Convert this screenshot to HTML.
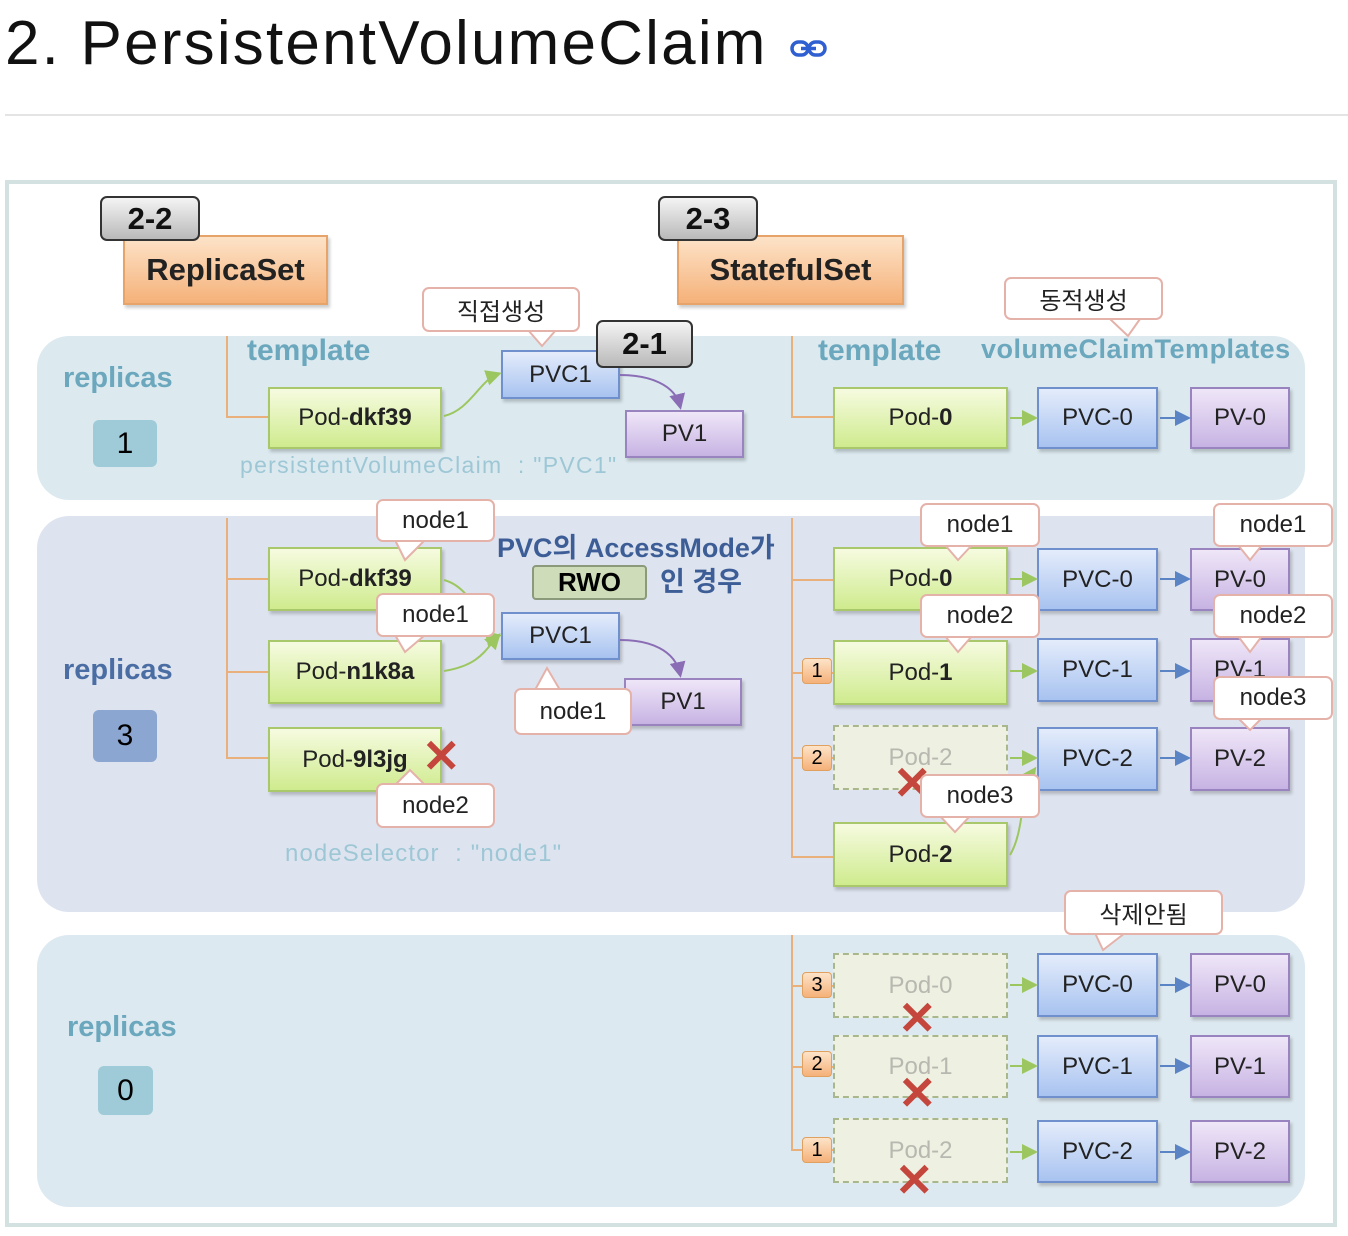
<!DOCTYPE html>
<html><head><meta charset="utf-8">
<style>
*{box-sizing:border-box;margin:0;padding:0}
body{width:1348px;height:1236px;background:#fff;position:relative;overflow:hidden;font-family:"Liberation Sans","Noto Sans CJK KR",sans-serif}
.a{position:absolute}
.t{position:absolute;white-space:nowrap}
.bx{position:absolute;display:flex;align-items:center;justify-content:center;font-size:24px;color:#222;box-shadow:2px 3px 3px rgba(0,0,0,.2)}
.pod{background:linear-gradient(#f6fbe0,#cfeb8e);border:2px solid #a9c86c}
.ghost{background:#eef0e2;border:2px dashed #a9b88c;color:#b8b8b0;box-shadow:none}
.pvc{background:linear-gradient(#e4ecfb,#a8c3f0);border:2px solid #6f90cc}
.pv{background:linear-gradient(#efe6f8,#c7b3e3);border:2px solid #9a84c0}
.org{background:linear-gradient(#fde3c8,#f5b179);border:2px solid #e6a36a;font-weight:bold;font-size:31px}
.bdg{position:absolute;display:flex;align-items:center;justify-content:center;background:linear-gradient(#f4f4f4,#b9b9b9);border:2px solid #333;border-radius:7px;font-weight:bold;font-size:31px;color:#111}
.co{position:absolute;background:#fff;border:2px solid #e5b2aa;border-radius:7px;display:flex;align-items:center;justify-content:center;font-size:24px;color:#222}
.ob{position:absolute;background:linear-gradient(#fde3c8,#f5b179);border:1px solid #e0a060;border-radius:4px;font-size:20px;display:flex;align-items:center;justify-content:center;width:30px;height:26px}
.pan{position:absolute;left:37px;width:1268px;border-radius:32px}
.ol{position:absolute;background:#e9b07c}
.x{position:absolute;color:#c4463c;font-size:46px;font-weight:bold;line-height:1}
</style></head><body>
<div class="t" style="left:5px;top:8px;font-size:62px;color:#111;letter-spacing:2.2px">2. PersistentVolumeClaim</div>
<svg class="a" style="left:790px;top:38px" width="38" height="22"><rect x="2" y="4" width="16" height="13" rx="6.5" fill="none" stroke="#2f5fd0" stroke-width="3.5"/><rect x="19" y="4" width="16" height="13" rx="6.5" fill="none" stroke="#2f5fd0" stroke-width="3.5"/><line x1="11" y1="10.5" x2="26" y2="10.5" stroke="#2f5fd0" stroke-width="3.5"/></svg>
<div class="a" style="left:5px;top:114px;width:1343px;height:2px;background:#e4e4e4"></div>
<div class="a" style="left:5px;top:180px;width:1332px;height:1047px;border:4px solid #d3e2e1;background:#fff"></div>

<div class="pan" style="top:336px;height:164px;background:#dceaf0"></div>
<div class="pan" style="top:516px;height:396px;background:#dee4ef"></div>
<div class="pan" style="top:935px;height:272px;background:#dde9f0"></div>

<div class="bx org" style="left:123px;top:235px;width:205px;height:70px">ReplicaSet</div>
<div class="bdg" style="left:100px;top:196px;width:100px;height:45px">2-2</div>
<div class="bx org" style="left:677px;top:235px;width:227px;height:70px">StatefulSet</div>
<div class="bdg" style="left:658px;top:196px;width:100px;height:45px">2-3</div>

<div class="t" style="left:63px;top:362px;font-size:29px;font-weight:bold;color:#6ba7bd">replicas</div>
<div class="a" style="left:93px;top:420px;width:64px;height:47px;background:#9fcbd8;border-radius:6px;font-size:30px;display:flex;align-items:center;justify-content:center">1</div>
<div class="t" style="left:247px;top:334px;font-size:30px;font-weight:bold;color:#6ba7bd">template</div>
<div class="ol" style="left:226px;top:336px;width:2px;height:82px"></div>
<div class="ol" style="left:226px;top:416px;width:42px;height:2px"></div>
<div class="bx pod" style="left:268px;top:387px;width:174px;height:62px">Pod-<b>dkf39</b></div>
<div class="bx pvc" style="left:501px;top:350px;width:119px;height:49px">PVC1</div>
<div class="bx pv" style="left:625px;top:410px;width:119px;height:48px">PV1</div>
<div class="t" style="left:240px;top:452px;font-size:23px;color:#9ec7d6;letter-spacing:1.3px">persistentVolumeClaim &nbsp;: "PVC1"</div>
<div class="t" style="left:818px;top:334px;font-size:30px;font-weight:bold;color:#6ba7bd">template</div>
<div class="t" style="left:981px;top:334px;font-size:27px;font-weight:bold;color:#6ba7bd;letter-spacing:0.5px">volumeClaimTemplates</div>
<div class="ol" style="left:791px;top:336px;width:2px;height:82px"></div>
<div class="ol" style="left:791px;top:416px;width:42px;height:2px"></div>
<div class="bx pod" style="left:833px;top:387px;width:175px;height:62px">Pod-<b>0</b></div>
<div class="bx pvc" style="left:1037px;top:387px;width:121px;height:62px">PVC-0</div>
<div class="bx pv" style="left:1190px;top:387px;width:100px;height:62px">PV-0</div>

<div class="t" style="left:63px;top:654px;font-size:29px;font-weight:bold;color:#4a6da4">replicas</div>
<div class="a" style="left:93px;top:710px;width:64px;height:52px;background:#8aa6d1;border-radius:6px;font-size:30px;display:flex;align-items:center;justify-content:center">3</div>
<div class="ol" style="left:226px;top:518px;width:2px;height:240px"></div>
<div class="ol" style="left:226px;top:578px;width:42px;height:2px"></div>
<div class="ol" style="left:226px;top:671px;width:42px;height:2px"></div>
<div class="ol" style="left:226px;top:757px;width:42px;height:2px"></div>
<div class="bx pod" style="left:268px;top:547px;width:174px;height:64px">Pod-<b>dkf39</b></div>
<div class="bx pod" style="left:268px;top:640px;width:174px;height:64px">Pod-<b>n1k8a</b></div>
<div class="bx pod" style="left:268px;top:727px;width:174px;height:65px">Pod-<b>9l3jg</b></div>
<div class="x" style="left:422px;top:733px">✕</div>
<div class="bx pvc" style="left:501px;top:612px;width:119px;height:48px">PVC1</div>
<div class="bx pv" style="left:624px;top:678px;width:118px;height:48px">PV1</div>
<div class="t" style="left:497px;top:526px;font-size:27px;font-weight:bold;color:#3c5d96">PVC의 AccessMode가</div>
<div class="a" style="left:532px;top:565px;width:115px;height:35px;background:#cfdcb9;border:2px solid #8a9a7a;border-radius:4px;font-size:26px;font-weight:bold;display:flex;align-items:center;justify-content:center">RWO</div>
<div class="t" style="left:660px;top:560px;font-size:27px;font-weight:bold;color:#3c5d96">인 경우</div>
<div class="t" style="left:285px;top:840px;font-size:24px;color:#9ec7d6;letter-spacing:1.1px">nodeSelector &nbsp;: "node1"</div>

<div class="ol" style="left:791px;top:518px;width:2px;height:340px"></div>
<div class="ol" style="left:791px;top:579px;width:42px;height:2px"></div>
<div class="ol" style="left:791px;top:672px;width:42px;height:2px"></div>
<div class="ol" style="left:791px;top:757px;width:42px;height:2px"></div>
<div class="ol" style="left:791px;top:856px;width:42px;height:2px"></div>
<div class="bx pod" style="left:833px;top:547px;width:175px;height:64px">Pod-<b>0</b></div>
<div class="bx pod" style="left:833px;top:640px;width:175px;height:65px">Pod-<b>1</b></div>
<div class="bx ghost" style="left:833px;top:725px;width:175px;height:65px">Pod-2</div>
<div class="x" style="left:893px;top:760px">✕</div>
<div class="bx pod" style="left:833px;top:822px;width:175px;height:65px">Pod-<b>2</b></div>
<div class="bx pvc" style="left:1037px;top:548px;width:121px;height:63px">PVC-0</div>
<div class="bx pvc" style="left:1037px;top:638px;width:121px;height:64px">PVC-1</div>
<div class="bx pvc" style="left:1037px;top:727px;width:121px;height:64px">PVC-2</div>
<div class="bx pv" style="left:1190px;top:548px;width:100px;height:63px">PV-0</div>
<div class="bx pv" style="left:1190px;top:638px;width:100px;height:64px">PV-1</div>
<div class="bx pv" style="left:1190px;top:727px;width:100px;height:64px">PV-2</div>
<div class="ob" style="left:802px;top:658px">1</div>
<div class="ob" style="left:802px;top:745px">2</div>

<div class="t" style="left:67px;top:1011px;font-size:29px;font-weight:bold;color:#6ba7bd">replicas</div>
<div class="a" style="left:98px;top:1066px;width:55px;height:49px;background:#9fcbd8;border-radius:6px;font-size:30px;display:flex;align-items:center;justify-content:center">0</div>
<div class="ol" style="left:791px;top:935px;width:2px;height:216px"></div>
<div class="ol" style="left:791px;top:985px;width:42px;height:2px"></div>
<div class="ol" style="left:791px;top:1066px;width:42px;height:2px"></div>
<div class="ol" style="left:791px;top:1149px;width:42px;height:2px"></div>
<div class="bx ghost" style="left:833px;top:953px;width:175px;height:65px">Pod-0</div>
<div class="bx ghost" style="left:833px;top:1035px;width:175px;height:63px">Pod-1</div>
<div class="bx ghost" style="left:833px;top:1118px;width:175px;height:65px">Pod-2</div>
<div class="x" style="left:898px;top:995px">✕</div>
<div class="x" style="left:898px;top:1070px">✕</div>
<div class="x" style="left:895px;top:1157px">✕</div>
<div class="ob" style="left:802px;top:972px">3</div>
<div class="ob" style="left:802px;top:1051px">2</div>
<div class="ob" style="left:802px;top:1137px">1</div>
<div class="bx pvc" style="left:1037px;top:953px;width:121px;height:64px">PVC-0</div>
<div class="bx pvc" style="left:1037px;top:1035px;width:121px;height:63px">PVC-1</div>
<div class="bx pvc" style="left:1037px;top:1120px;width:121px;height:63px">PVC-2</div>
<div class="bx pv" style="left:1190px;top:953px;width:100px;height:64px">PV-0</div>
<div class="bx pv" style="left:1190px;top:1035px;width:100px;height:63px">PV-1</div>
<div class="bx pv" style="left:1190px;top:1120px;width:100px;height:63px">PV-2</div>

<svg class="a" style="left:0;top:0" width="1348" height="1236">
<defs>
<marker id="g" markerWidth="8" markerHeight="8" refX="6" refY="4" orient="auto"><path d="M0,0L8,4L0,8z" fill="#9cc760"/></marker>
<marker id="b" markerWidth="8" markerHeight="8" refX="6" refY="4" orient="auto"><path d="M0,0L8,4L0,8z" fill="#5a84c4"/></marker>
<marker id="p" markerWidth="8" markerHeight="8" refX="6" refY="4" orient="auto"><path d="M0,0L8,4L0,8z" fill="#8a6db5"/></marker>
</defs>
<g fill="none" stroke-width="2">
<path d="M444,416 C470,410 480,380 498,374" stroke="#9cc760" marker-end="url(#g)"/>
<path d="M620,375 C650,375 675,385 680,406" stroke="#8a6db5" marker-end="url(#p)"/>
<path d="M444,580 C480,590 480,640 498,636" stroke="#9cc760" marker-end="url(#g)"/>
<path d="M444,671 C480,665 485,650 498,636" stroke="#9cc760" marker-end="url(#g)"/>
<path d="M620,640 C650,640 675,650 680,674" stroke="#8a6db5" marker-end="url(#p)"/>
<path d="M1010,855 C1025,830 1020,790 1034,770" stroke="#9cc760" marker-end="url(#g)"/>
</g>
<g stroke-width="2">
<line x1="1010" y1="418" x2="1034" y2="418" stroke="#9cc760" marker-end="url(#g)"/>
<line x1="1160" y1="418" x2="1187" y2="418" stroke="#5a84c4" marker-end="url(#b)"/>
<line x1="1010" y1="579" x2="1034" y2="579" stroke="#9cc760" marker-end="url(#g)"/>
<line x1="1160" y1="579" x2="1187" y2="579" stroke="#5a84c4" marker-end="url(#b)"/>
<line x1="1010" y1="671" x2="1034" y2="671" stroke="#9cc760" marker-end="url(#g)"/>
<line x1="1160" y1="671" x2="1187" y2="671" stroke="#5a84c4" marker-end="url(#b)"/>
<line x1="1010" y1="758" x2="1034" y2="758" stroke="#9cc760" marker-end="url(#g)"/>
<line x1="1160" y1="758" x2="1187" y2="758" stroke="#5a84c4" marker-end="url(#b)"/>
<line x1="1010" y1="985" x2="1034" y2="985" stroke="#9cc760" marker-end="url(#g)"/>
<line x1="1160" y1="985" x2="1187" y2="985" stroke="#5a84c4" marker-end="url(#b)"/>
<line x1="1010" y1="1066" x2="1034" y2="1066" stroke="#9cc760" marker-end="url(#g)"/>
<line x1="1160" y1="1066" x2="1187" y2="1066" stroke="#5a84c4" marker-end="url(#b)"/>
<line x1="1010" y1="1152" x2="1034" y2="1152" stroke="#9cc760" marker-end="url(#g)"/>
<line x1="1160" y1="1152" x2="1187" y2="1152" stroke="#5a84c4" marker-end="url(#b)"/>
</g>
<g fill="#fff" stroke="#e5b2aa" stroke-width="2">
<path d="M528,330 L542,346 L556,330"/>
<path d="M1110,319 L1128,336 L1140,319"/>
<path d="M395,540 L405,560 L425,540"/>
<path d="M395,635 L405,652 L425,635"/>
<path d="M395,785 L410,770 L425,785"/>
<path d="M535,690 L547,668 L560,690"/>
<path d="M945,545 L958,560 L972,545"/>
<path d="M945,636 L958,652 L972,636"/>
<path d="M940,816 L955,832 L970,816"/>
<path d="M1238,545 L1250,560 L1262,545"/>
<path d="M1238,636 L1250,652 L1262,636"/>
<path d="M1238,718 L1250,730 L1262,718"/>
<path d="M1095,933 L1103,950 L1125,933"/>
</g>
</svg>

<div class="co" style="left:422px;top:287px;width:158px;height:45px">직접생성</div>
<div class="co" style="left:1004px;top:277px;width:159px;height:43px">동적생성</div>
<div class="bdg" style="left:596px;top:320px;width:97px;height:48px">2-1</div>
<div class="co" style="left:376px;top:499px;width:119px;height:43px">node1</div>
<div class="co" style="left:376px;top:593px;width:119px;height:44px">node1</div>
<div class="co" style="left:376px;top:783px;width:119px;height:45px">node2</div>
<div class="co" style="left:514px;top:688px;width:118px;height:47px">node1</div>
<div class="co" style="left:920px;top:503px;width:120px;height:44px">node1</div>
<div class="co" style="left:920px;top:594px;width:120px;height:44px">node2</div>
<div class="co" style="left:920px;top:774px;width:120px;height:44px">node3</div>
<div class="co" style="left:1213px;top:503px;width:120px;height:44px">node1</div>
<div class="co" style="left:1213px;top:594px;width:120px;height:44px">node2</div>
<div class="co" style="left:1213px;top:676px;width:120px;height:44px">node3</div>
<div class="co" style="left:1064px;top:890px;width:159px;height:45px">삭제안됨</div>
</body></html>
